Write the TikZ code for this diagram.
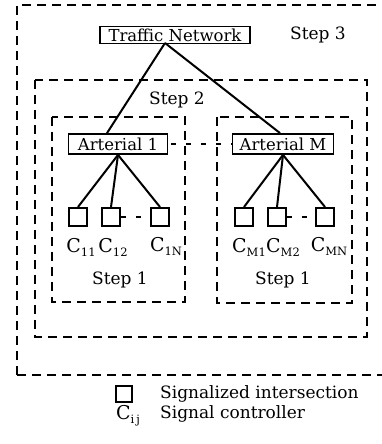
\documentclass[tikz,border=0pt]{standalone}
\usepackage{fontspec}
\setmainfont{DejaVu Serif}
\newcommand{\ssub}[1]{{\fontsize{11.5}{12}\selectfont\raisebox{-4pt}{#1}}}
\begin{document}
\begin{tikzpicture}[x=1pt,y=-1pt,
  txt/.style={inner sep=0pt,font=\fontsize{17}{18}\selectfont},
  lbl/.style={inner sep=0pt,font=\fontsize{19}{20}\selectfont},
  namebox/.style={draw,line width=1.8pt,inner sep=0pt,minimum height=17pt,font=\fontsize{16.5}{17}\selectfont},
  sq/.style={draw,line width=2pt,minimum size=18pt,inner sep=0pt},
  region/.style={line width=2pt,dash pattern=on 9pt off 6pt},
  link/.style={line width=2pt},
  gap/.style={line width=2pt,dash pattern=on 5pt off 10pt}]
\useasboundingbox (0,0) rectangle (381,444);
% regions
\draw[region] (17,375) -- (17,5) -- (395,5);
\draw[region] (17,375) -- (395,375);
\draw[region] (35,80) rectangle (367,337);
\draw[region] (52,117) rectangle (185,302);
\draw[region] (217,117) rectangle (352,303);
% nodes
\node[namebox,minimum width=150pt] (TN) at (175,35) {Traffic Network};
\node[txt] (s3) at (318,35) {Step 3};
\node[txt] (s2) at (177,100) {Step 2};
\node[namebox,minimum width=99pt,minimum height=20pt] (A1) at (118,144) {Arterial 1};
\node[namebox,minimum width=101pt,minimum height=20pt] (AM) at (283,144) {Arterial M};
\node[sq] (q11) at (78,217) {};
\node[sq] (q12) at (111,217) {};
\node[sq] (q1N) at (160,217) {};
\node[sq] (qM1) at (244,217) {};
\node[sq] (qM2) at (277,217) {};
\node[sq] (qMN) at (325,217) {};
\node[lbl] (c11) at (81,247) {C\ssub{11}};
\node[lbl] (c12) at (113,247) {C\ssub{12}};
\node[lbl] (c1N) at (166,247) {C\ssub{1N}};
\node[lbl] (cM1) at (249,247) {C\ssub{M1}};
\node[lbl] (cM2) at (283,247) {C\ssub{M2}};
\node[lbl] (cMN) at (329,247) {C\ssub{MN}};
\node[txt] (s1a) at (120,280) {Step 1};
\node[txt] (s1b) at (283,280) {Step 1};
% connectors
\coordinate (apex) at (165,43);
\draw[link] (apex) -- ([xshift=-11pt]A1.north);
\draw[link] (apex) -- ([xshift=-3pt]AM.north);
\draw[link] (A1.south) -- (q11.north);
\draw[link] (A1.south) -- (q12.north);
\draw[link] (A1.south) -- (q1N.north);
\draw[link] (AM.south) -- (qM1.north);
\draw[link] (AM.south) -- (qM2.north);
\draw[link] (AM.south) -- (qMN.north);
\draw[gap] ([xshift=3pt]A1.east) -- (AM.west);
\draw[gap] (q12.east) -- (q1N.west);
\draw[gap] (qM2.east) -- (qMN.west);
% legend
\node[sq,minimum size=16pt] (lq) at (124,394) {};
\node[txt,anchor=west] (lt1) at (160,394) {Signalized intersection};
\node[lbl] (lc) at (128,416) {C\ssub{i\,j}};
\node[txt,anchor=west] (lt2) at (160,414) {Signal controller};
\end{tikzpicture}
\end{document}
